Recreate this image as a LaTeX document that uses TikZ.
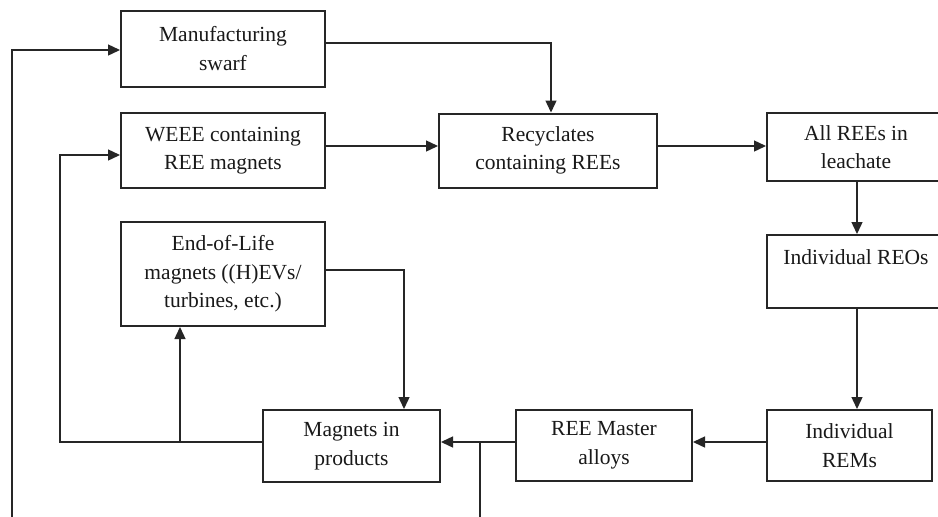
\documentclass[tikz,border=0pt]{standalone}
\usepackage{fontspec}
\setmainfont{Liberation Serif}
\usetikzlibrary{arrows.meta,calc}
\begin{document}
\begin{tikzpicture}[x=1pt,y=-1pt,
  box/.style={draw=black!85,line width=2pt,rectangle,inner sep=0pt,align=center,
    font=\fontsize{21.5}{28.5}\selectfont,text=black!90},
  link/.style={draw=black!85,line width=1.4pt},
  arr/.style={link,-{Triangle[length=12pt,width=11pt]}}]
\clip (0,0) rectangle (938,517);
\fill[white] (0,0) rectangle (938,517);

% process boxes
\node[box,minimum width=204pt,minimum height=76pt] (swarf) at (223,48.5) {Manufacturing\\swarf};
\node[box,minimum width=204pt,minimum height=75pt] (weee) at (223,150.5) {WEEE containing\\REE magnets};
\node[box,minimum width=204pt,minimum height=104pt] (eol) at (223,274) {End-of-Life\\magnets ((H)EVs/\\turbines, etc.)};
\node[box,minimum width=218pt,minimum height=74pt] (recyc) at (548,150.5) {Recyclates\\containing REEs};
\node[box,minimum width=178pt,minimum height=68pt] (leach) at (856,147) {All REEs in\\leachate};
\node[box,minimum width=178pt,minimum height=73pt] (reo) at (856,271.5) {Individual REOs\\\mbox{}};
\node[box,minimum width=165pt,minimum height=71pt] (rem) at (849.5,445.5) {Individual\\REMs};
\node[box,minimum width=176pt,minimum height=71pt] (alloy) at (604,445.5) {REE Master\\alloys};
\node[box,minimum width=177pt,minimum height=72pt] (mag) at (351.5,446) {Magnets in\\products};

% junctions and free ends
\coordinate (split) at (480,442);
\coordinate (down) at (480,520);
\coordinate (outer) at (12,520);
\coordinate (loopx) at (60,442);
\coordinate (eolx) at (180,442);

% forward flow
\draw[arr] ($(swarf.east)+(0,-5.5)$) -| ([xshift=3pt]recyc.north);
\draw[arr] ($(weee.east)+(0,-4.5)$) -- ($(recyc.west)+(0,-4.5)$);
\draw[arr] ($(recyc.east)+(0,-4.5)$) -- ($(leach.west)+(0,-1)$);
\draw[arr] ([xshift=1pt]leach.south) -- ([xshift=1pt]reo.north);
\draw[arr] ([xshift=1pt]reo.south) -- ([xshift=1pt]reo.south |- rem.north);
\draw[arr] ($(rem.west)+(0,-3.5)$) -- ($(alloy.east)+(0,-3.5)$);
\draw[arr] ($(alloy.west)+(0,-3.5)$) -- ($(mag.east)+(0,-4)$);
\draw[link] (split) -- (down);

% return loops
\draw[arr] ($(mag.west)+(0,-4)$) -- (loopx) |- ($(weee.west)+(0,4.5)$);
\draw[arr] (eolx) -- (eolx |- eol.south);
\draw[arr] ($(eol.east)+(0,-4)$) -| ([xshift=52.5pt]mag.north);
\draw[arr] (outer) |- ($(swarf.west)+(0,1.5)$);
\end{tikzpicture}
\end{document}
